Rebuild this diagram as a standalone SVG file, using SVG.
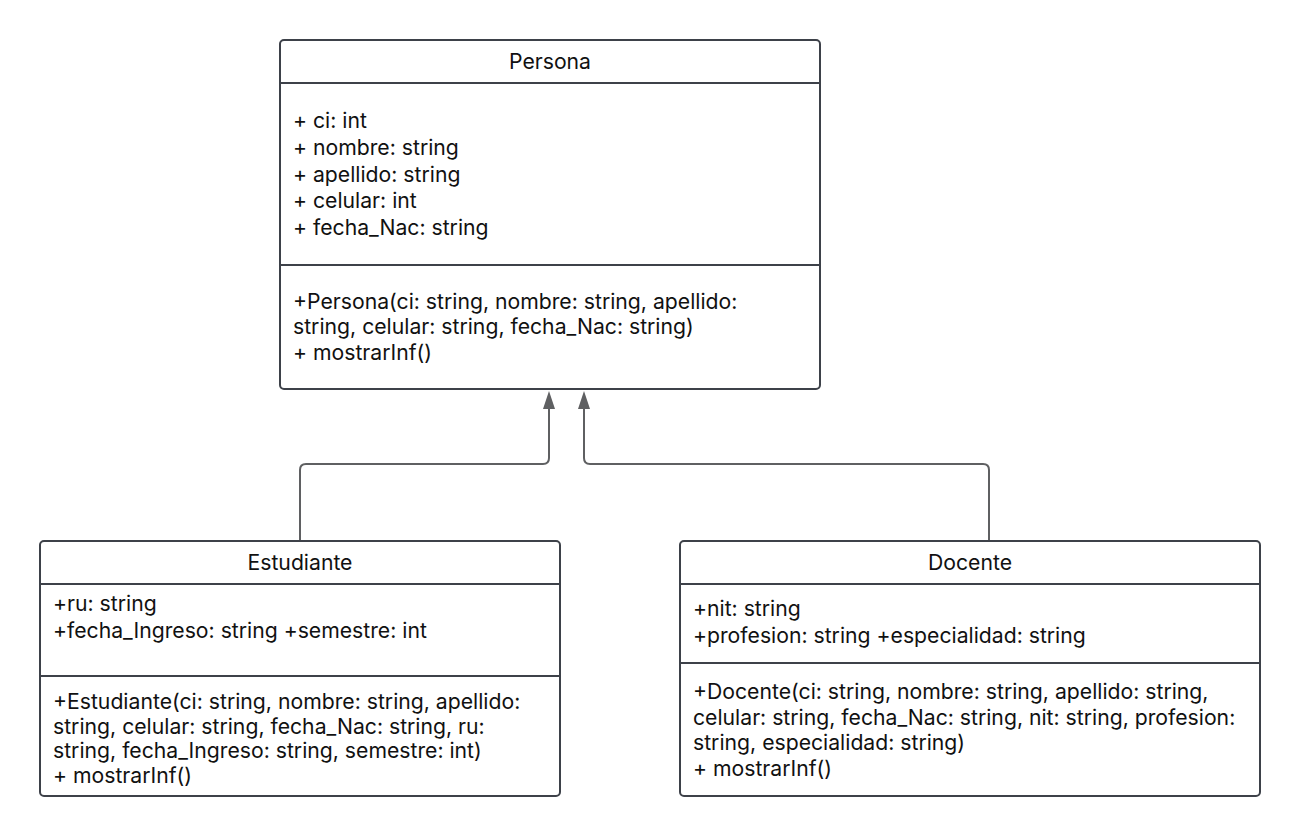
<svg xmlns="http://www.w3.org/2000/svg" width="1300" height="836" viewBox="0 0 1300 836">
<style>
.box{fill:#ffffff;stroke:#3d4149;stroke-width:2}
.div{stroke:#3d4149;stroke-width:2}
.t{font-family:Inter,"Liberation Sans",sans-serif;font-size:21.2px;fill:#111111}
.c{text-anchor:middle}
.conn{fill:none;stroke:#5f6062;stroke-width:2}
</style>
<rect width="1300" height="836" fill="#ffffff"/>
<g id="connectors">
<path class="conn" d="M549,408 V458 Q549,464 543,464 H306 Q300,464 300,470 V541"/>
<path class="conn" d="M584,408 V458 Q584,464 590,464 H983 Q989,464 989,470 V541"/>
<polygon points="549,391 543,409 555,409" fill="#5f6062"/>
<polygon points="584,391 578,409 590,409" fill="#5f6062"/>
</g>
<g id="persona">
<rect class="box" x="280" y="40" width="540" height="349" rx="4"/>
<line class="div" x1="280" y1="83" x2="820" y2="83"/>
<line class="div" x1="280" y1="265" x2="820" y2="265"/>
<text class="t c" x="550" y="69">Persona</text>
<text class="t" x="293" y="128">+ ci: int</text>
<text class="t" x="293" y="155">+ nombre: string</text>
<text class="t" x="293" y="182">+ apellido: string</text>
<text class="t" x="293" y="208">+ celular: int</text>
<text class="t" x="293" y="235">+ fecha_Nac: string</text>
<text class="t" x="293" y="309">+Persona(ci: string, nombre: string, apellido:</text>
<text class="t" x="293" y="334">string, celular: string, fecha_Nac: string)</text>
<text class="t" x="293" y="360">+ mostrarInf()</text>
</g>
<g id="estudiante">
<rect class="box" x="40" y="541" width="520" height="255" rx="4"/>
<line class="div" x1="40" y1="584" x2="560" y2="584"/>
<line class="div" x1="40" y1="676" x2="560" y2="676"/>
<text class="t c" x="300" y="570">Estudiante</text>
<text class="t" x="53" y="611">+ru: string</text>
<text class="t" x="53" y="638">+fecha_Ingreso: string +semestre: int</text>
<text class="t" x="53" y="709">+Estudiante(ci: string, nombre: string, apellido:</text>
<text class="t" x="53" y="734">string, celular: string, fecha_Nac: string, ru:</text>
<text class="t" x="53" y="758">string, fecha_Ingreso: string, semestre: int)</text>
<text class="t" x="53" y="783">+ mostrarInf()</text>
</g>
<g id="docente">
<rect class="box" x="680" y="541" width="580" height="255" rx="4"/>
<line class="div" x1="680" y1="584" x2="1260" y2="584"/>
<line class="div" x1="680" y1="663" x2="1260" y2="663"/>
<text class="t c" x="970" y="570">Docente</text>
<text class="t" x="693" y="616">+nit: string</text>
<text class="t" x="693" y="643">+profesion: string +especialidad: string</text>
<text class="t" x="693" y="699">+Docente(ci: string, nombre: string, apellido: string,</text>
<text class="t" x="693" y="725">celular: string, fecha_Nac: string, nit: string, profesion:</text>
<text class="t" x="693" y="750">string, especialidad: string)</text>
<text class="t" x="693" y="776">+ mostrarInf()</text>
</g>
</svg>
